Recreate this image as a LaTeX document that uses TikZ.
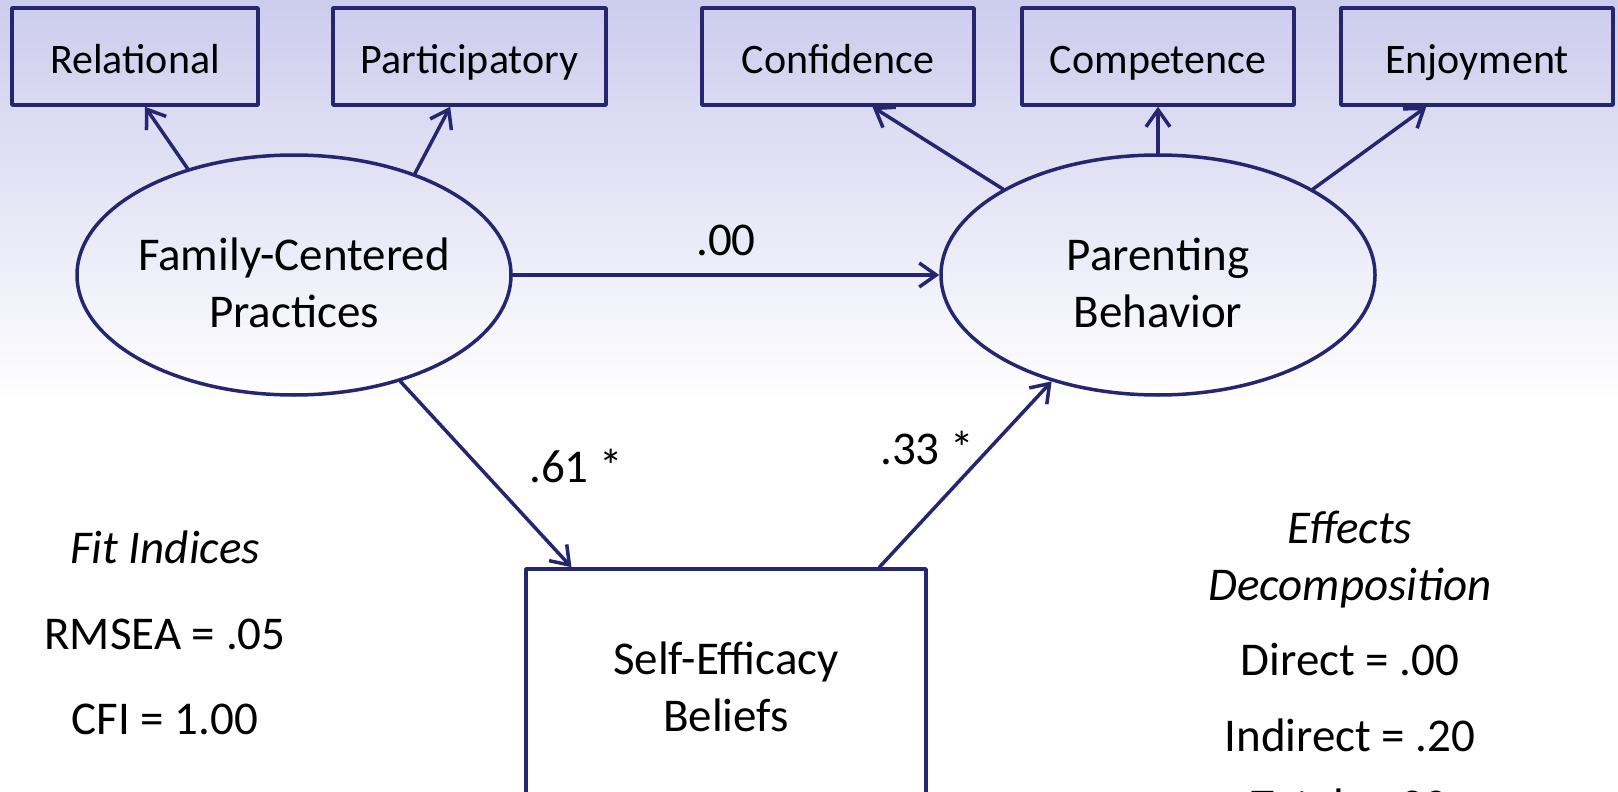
\documentclass[tikz,border=0pt]{standalone}
\usepackage{fontspec}
\setmainfont{Carlito}
\usetikzlibrary{arrows.meta,shapes.geometric,calc}
\definecolor{semblue}{RGB}{38,38,112}
\definecolor{bgtop}{RGB}{204,204,237}
\begin{document}
\begin{tikzpicture}[x=1pt,y=-1pt,line join=round,line cap=round,
  >={Straight Barb[length=17pt,width=24pt]},
  obs/.style={draw=semblue,line width=3.5pt,rectangle,inner sep=0pt,minimum width=272pt,minimum height=97pt,text height=35pt,text depth=0pt,font=\fontsize{42}{50}\selectfont},
  lat/.style={draw=semblue,line width=3.5pt,ellipse,inner sep=0pt,minimum width=434pt,minimum height=240pt},
  lattext/.style={align=center,inner sep=0pt,font=\fontsize{47}{57}\selectfont},
  arr/.style={->,draw=semblue,line width=3.5pt},
  coef/.style={font=\fontsize{47}{57}\selectfont},
  info/.style={font=\fontsize{47}{57}\selectfont,align=center}]
  \def\yrow{56.5} % hàng các biến quan sát
  \useasboundingbox (0,0) rectangle (1618,792);
  \clip (0,0) rectangle (1618,792);
  \shade[top color=bgtop,bottom color=white] (0,0) rectangle (1618,400);
  % biến quan sát
  \node[obs,minimum width=246pt] (rel) at (135,\yrow) {Relational};
  \node[obs,minimum width=273pt] (part) at (469.5,\yrow) {Participatory};
  \node[obs] (conf) at (838,\yrow) {Confidence};
  \node[obs] (comp) at (1158,\yrow) {Competence};
  \node[obs] (enj) at (1477,\yrow) {Enjoyment};
  % biến tiềm ẩn
  \node[lat] (fcp) at (294,275) {};
  \node[lattext] (fcptext) at ($(fcp.center)+(0,8)$) {Family-Centered\\Practices};
  \node[lat] (pb) at (1158,275) {};
  \node[lattext] (pbtext) at ($(pb.center)+(0,8)$) {Parenting\\Behavior};
  \node[obs,minimum width=400pt,minimum height=236pt,align=center,text height=,text depth=,font=\fontsize{47}{57}\selectfont] (seb) at (726,687) {Self-Efficacy\\Beliefs};
  % mũi tên
  \draw[arr] (fcp.135) -- ($(rel.south west)!0.54!(rel.south east)$);
  \draw[arr] (fcp.40) -- ($(part.south west)!0.43!(part.south east)$);
  \draw[arr] (pb.151) -- ($(conf.south west)!0.625!(conf.south east)$);
  \draw[arr] (pb.north) -- (comp.south);
  \draw[arr] (pb.29) -- ($(enj.south west)!0.316!(enj.south east)$);
  \draw[arr] (fcp.east) -- (pb.west) node[coef,midway,above=14pt] (c00) {.00};
  \draw[arr] (fcp.-45) -- ($(seb.north west)!0.117!(seb.north east)$);
  \draw[arr] ($(seb.north west)!0.88!(seb.north east)$) -- (pb.225);
  \node[coef] (c61) at (576,466) {.61 *};
  \node[coef] (c33) at (927,448) {.33 *};
  % chỉ số
  \node[info,font=\fontsize{47}{57}\selectfont\itshape] (fit) at (165,547) {Fit Indices};
  \node[info] (rmsea) at (165,634) {RMSEA = .05};
  \node[info] (cfi) at (165,719) {CFI = 1.00};
  \node[info,font=\fontsize{47}{57}\selectfont\itshape] (eff) at (1350,560) {Effects\\Decomposition};
  \node[info] (dir) at (1350,660) {Direct = .00};
  \node[info] (ind) at (1350,735) {Indirect = .20};
  \node[info,anchor=base] (tot) at (1350,821) {Total = .20};
\end{tikzpicture}
\end{document}
